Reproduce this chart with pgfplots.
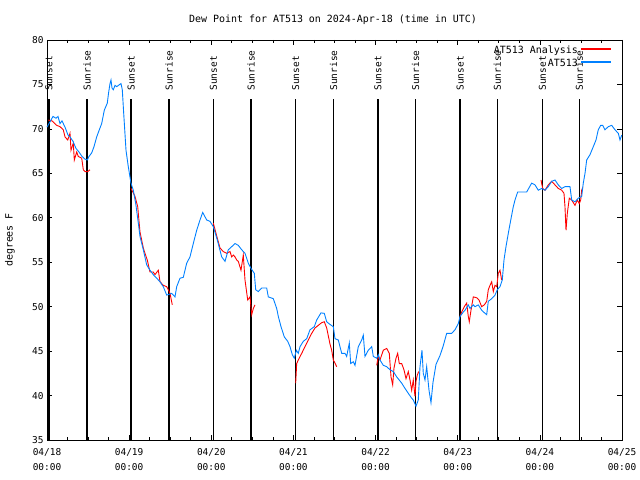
\documentclass[border=0pt]{standalone}
\usepackage{fontspec}
\setmainfont{DejaVu Sans Mono}
\usepackage{pgfplots}
\pgfplotsset{compat=1.18}
\definecolor{atblue}{RGB}{0,128,255}
\definecolor{atred}{RGB}{255,0,0}
\begin{document}
\begin{tikzpicture}
\path[use as bounding box] (0bp,0bp) rectangle (640bp,480bp);
\begin{axis}[
  at={(47bp,40bp)}, anchor=south west,
  scale only axis, width=575bp, height=400bp,
  xmin=0, xmax=168, ymin=35, ymax=80,
  xtick={0,24,48,72,96,120,144,168},
  xticklabels={{04/18\\00:00},{04/19\\00:00},{04/20\\00:00},{04/21\\00:00},{04/22\\00:00},{04/23\\00:00},{04/24\\00:00},{04/25\\00:00}},
  x tick label style={align=center, font=\fontsize{9.5}{15}\selectfont, yshift=-5bp},
  y tick label style={font=\fontsize{9.5}{12}\selectfont},
  minor x tick num=3,
  ytick={35,40,...,80},
  tick align=inside,
  major tick length=5bp, minor tick length=3bp,
  axis line style={line width=0.8bp},
  every tick/.style={black, line width=0.7bp},
  /pgf/number format/assume math mode=true,
  clip=false,
]
% sunset / sunrise markers
\pgfplotsinvokeforeach{0.6,24.6,48.6,72.65,96.7,120.7,144.75}{
  \draw[line width=1.4bp] (axis cs:#1,35) -- (axis cs:#1,73.4);
  \node[rotate=90, anchor=west, inner sep=0pt, font=\fontsize{9.5}{11}\selectfont] at (axis cs:#1,74.3) {Sunset};
}
\pgfplotsinvokeforeach{11.7,35.67,59.63,83.7,107.7,131.6,155.55}{
  \draw[line width=1.4bp] (axis cs:#1,35) -- (axis cs:#1,73.4);
  \node[rotate=90, anchor=west, inner sep=0pt, font=\fontsize{9.5}{11}\selectfont] at (axis cs:#1,74.3) {Sunrise};
}
% AT513 Analysis (red)
\addplot[color=atred, line width=0.9bp] coordinates {
(0.38,71.0)(1.46,70.9)(2.83,70.4)(3.80,70.25)(4.76,69.9)(5.26,69.1)(6.05,68.75)(6.72,69.5)(7.01,67.6)(7.68,68.4)(7.98,66.5)(8.68,67.4)(9.14,66.9)(10.14,66.7)(10.61,65.4)(11.10,65.2)(11.89,65.2)(12.56,65.4)
};
\addplot[color=atred, line width=0.9bp] coordinates {
(24.54,63.3)(25.71,62.4)(26.50,61.25)(27.17,58.4)(28.14,56.6)(28.63,56.0)(29.30,55.25)(30.09,53.9)(31.06,53.9)(31.55,53.6)(32.52,54.1)(33.02,52.8)(33.98,52.4)(34.97,52.25)(35.44,51.9)(35.94,51.5)(36.61,50.2)
};
\addplot[color=atred, line width=0.9bp] coordinates {
(48.59,59.4)(49.76,57.7)(50.55,56.6)(51.51,56.2)(52.50,56.0)(53.47,56.2)(53.96,55.6)(54.43,55.8)(54.93,55.6)(55.42,55.25)(55.89,55.1)(56.68,54.1)(57.35,55.8)(57.85,53.0)(58.64,50.75)(59.31,51.1)(59.81,49.1)(60.28,49.8)(60.77,50.2)
};
\addplot[color=atred, line width=0.9bp] coordinates {
(72.66,41.4)(72.95,43.6)(73.42,44.0)(74.42,44.75)(75.38,45.5)(76.34,46.25)(77.34,47.0)(78.30,47.6)(79.27,47.9)(80.26,48.2)(81.02,48.3)(81.72,47.6)(82.68,45.8)(83.18,45.1)(83.65,44.0)(83.94,43.8)(84.64,43.25)
};
\addplot[color=atred, line width=0.9bp] coordinates {
(96.33,43.4)(96.80,44.4)(97.29,44.0)(98.26,45.1)(99.25,45.3)(100.01,44.75)(100.51,42.1)(101.00,41.2)(101.38,43.1)(101.97,44.2)(102.46,44.75)(102.93,43.6)(103.63,43.6)(104.30,42.9)(104.89,41.9)(105.56,42.7)(106.06,41.75)(106.55,40.6)(107.02,41.75)(107.52,39.9)(107.81,41.6)(108.19,42.3)(108.60,42.7)
};
\addplot[color=atred, line width=0.9bp] coordinates {
(120.67,48.9)(121.16,49.4)(121.92,50.0)(122.62,50.4)(123.09,48.9)(123.38,48.3)(123.88,49.6)(124.55,51.1)(125.55,51.0)(126.22,50.75)(127.00,50.0)(127.76,50.2)(128.47,50.6)(128.93,51.9)(129.43,52.4)(129.93,52.8)(130.40,51.7)(130.89,52.4)(131.39,52.25)(131.86,53.75)(132.35,54.1)(132.84,53.0)
};
\addplot[color=atred, line width=0.9bp] coordinates {
(144.33,64.25)(144.83,63.3)(145.50,63.1)(146.46,63.7)(147.46,64.1)(148.42,63.7)(149.38,63.3)(150.38,63.1)(151.05,62.75)(151.34,61.25)(151.64,58.6)(152.02,60.5)(152.60,62.2)(153.30,62.0)(154.26,61.4)(154.94,62.0)(155.52,61.6)(155.93,62.0)(156.22,63.1)(156.51,63.4)
};
% AT513 (blue)
\addplot[color=atblue, line width=0.9bp] coordinates {
(0,70.2)(0.88,70.8)(1.75,71.4)(2.63,71.2)(3.21,71.4)(3.80,70.6)(4.38,70.9)(5.26,70.2)(6.14,69.3)(6.72,69.1)(7.60,68.6)(8.47,67.8)(9.35,67.4)(10.23,66.9)(11.10,66.6)(11.77,66.5)(12.27,66.9)(13.06,67.3)(13.73,68.0)(14.52,69.1)(15.19,69.8)(15.98,70.6)(16.74,72.1)(17.62,72.9)(17.97,74.0)(18.41,75.1)(18.70,75.5)(18.99,74.6)(19.37,74.4)(19.87,74.9)(20.36,74.75)(20.89,74.9)(21.62,75.1)(22.00,74.4)(22.41,71.75)(23.08,67.6)(23.75,65.75)(24.54,63.9)(25.21,63.1)(25.92,61.6)(26.68,59.4)(27.17,57.9)(28.14,56.4)(29.13,54.7)(30.09,54.1)(31.06,53.6)(32.05,53.2)(33.02,52.8)(33.98,52.25)(34.97,51.3)(35.73,51.4)(36.43,51.5)(37.40,51.1)(37.89,52.25)(38.86,53.2)(39.82,53.3)(40.82,54.9)(41.78,55.6)(42.74,57.1)(43.74,58.6)(44.70,59.75)(45.49,60.6)(46.66,59.75)(47.62,59.6)(48.59,59.0)(49.76,57.5)(51.04,55.6)(52.01,55.1)(52.97,56.4)(53.96,56.75)(54.93,57.1)(55.89,56.9)(56.89,56.4)(57.85,56.0)(58.81,54.9)(59.60,54.3)(60.57,53.75)(60.98,51.9)(61.74,51.7)(62.73,52.1)(64.19,52.1)(64.66,51.1)(66.12,50.9)(67.11,49.8)(67.58,48.9)(68.37,47.75)(69.33,46.6)(70.33,46.1)(71.00,45.5)(71.67,44.6)(72.25,44.2)(72.84,45.1)(73.42,44.75)(73.92,45.5)(74.88,46.1)(75.88,46.4)(76.84,47.4)(78.10,47.75)(78.80,48.5)(80.05,49.3)(81.02,49.25)(81.72,48.3)(82.68,48.0)(83.65,47.75)(84.14,46.4)(85.11,46.25)(86.10,44.75)(87.07,44.75)(87.56,44.4)(88.32,45.9)(88.73,43.6)(89.49,43.8)(89.99,43.4)(90.95,45.5)(91.95,46.25)(92.41,46.8)(92.91,44.4)(93.87,45.1)(94.87,45.5)(95.34,44.4)(96.33,44.2)(96.80,44.6)(97.29,44.0)(98.26,43.4)(99.25,43.25)(100.21,42.9)(101.18,42.7)(102.17,42.1)(103.63,41.4)(104.60,40.8)(105.56,40.25)(106.55,39.7)(107.02,39.5)(107.81,38.8)(108.48,39.5)(108.98,43.25)(109.56,45.1)(109.94,42.5)(110.44,41.75)(110.93,43.25)(111.61,40.6)(112.19,39.2)(112.78,41.5)(113.65,43.5)(114.82,44.5)(115.70,45.5)(116.78,47.0)(118.24,47.0)(119.21,47.4)(120.17,48.1)(120.67,48.9)(121.63,49.4)(122.13,49.6)(123.09,50.2)(123.59,49.8)(124.55,50.2)(125.05,50.0)(126.01,50.2)(127.00,49.6)(127.97,49.25)(128.47,49.1)(128.93,50.6)(129.93,50.9)(130.89,51.3)(131.56,51.9)(132.35,52.25)(133.02,53.0)(133.52,55.25)(134.10,56.75)(134.78,58.25)(135.57,59.9)(136.24,61.25)(136.74,62.0)(137.52,62.9)(139.45,62.9)(140.15,62.9)(141.61,63.9)(142.58,63.7)(143.54,63.1)(144.53,63.3)(145.50,63.1)(146.46,63.5)(147.46,64.1)(148.42,64.25)(149.38,63.7)(150.38,63.3)(151.34,63.5)(152.80,63.5)(153.30,62.0)(154.26,61.8)(155.23,62.2)(156.22,62.4)(156.69,63.9)(157.19,65.0)(157.68,66.5)(158.65,67.1)(159.61,68.0)(160.40,68.75)(161.07,69.9)(161.77,70.4)(162.36,70.4)(163.03,69.9)(163.99,70.25)(164.99,70.4)(165.95,69.9)(166.92,69.5)(167.41,68.75)(167.91,69.3)
};
% legend
\node[anchor=base east, inner sep=0pt, font=\fontsize{10}{12}\selectfont] at (rel axis cs:0.9235,0.9675) {AT513 Analysis};
\draw[atred, line width=1.5bp] (rel axis cs:0.9287,0.9775) -- (rel axis cs:0.9809,0.9775);
\node[anchor=base east, inner sep=0pt, font=\fontsize{10}{12}\selectfont] at (rel axis cs:0.9235,0.935) {AT513};
\draw[atblue, line width=1.5bp] (rel axis cs:0.9287,0.945) -- (rel axis cs:0.9809,0.945);
\end{axis}
\node[font=\fontsize{10}{12}\selectfont] at (333bp,460bp) {Dew Point for AT513 on 2024-Apr-18 (time in UTC)};
\node[rotate=90, font=\fontsize{10}{12}\selectfont] at (10bp,240bp) {degrees F};
\end{tikzpicture}
\end{document}
